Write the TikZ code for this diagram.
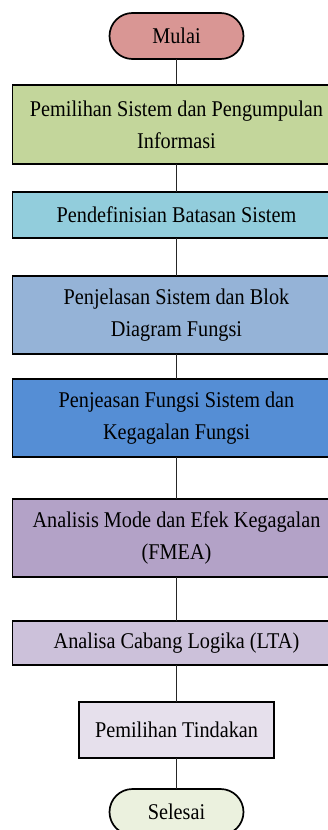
\documentclass[tikz,border=0pt]{standalone}
\usepackage{fontspec}
\setmainfont[FakeStretch=0.9]{Liberation Serif}
\definecolor{cstart}{RGB}{217,150,148}
\definecolor{cone}{RGB}{195,214,155}
\definecolor{ctwo}{RGB}{146,205,220}
\definecolor{cthree}{RGB}{149,179,215}
\definecolor{cfour}{RGB}{85,142,213}
\definecolor{cfive}{RGB}{179,162,199}
\definecolor{csix}{RGB}{204,193,218}
\definecolor{cseven}{RGB}{230,224,236}
\definecolor{cend}{RGB}{235,241,222}
\begin{document}
\begin{tikzpicture}[x=1pt,y=1pt,
  every node/.style={font=\fontsize{22.5}{32}\selectfont, align=center, inner sep=0pt, outer sep=0pt},
  term/.style={draw=black, line width=1.7pt, rounded corners=23pt, minimum width=134pt, minimum height=46pt},
  stepbox/.style={draw=black, line width=1.7pt, minimum width=328pt},
  link/.style={draw=black!85, line width=1.7pt}]
\path[use as bounding box] (0,0) rectangle (328,-830);
\clip (0,0) rectangle (328,-830);
\fill[white] (0,0) rectangle (328,-830);
\node[term, fill=cstart] (mulai) at (176.5,-36) {Mulai};
\node[stepbox, fill=cone, minimum height=79pt] (b1) at (176.5,-124.5) {Pemilihan Sistem dan Pengumpulan\\Informasi};
\node[stepbox, fill=ctwo, minimum height=46pt] (b2) at (176.5,-215) {Pendefinisian Batasan Sistem};
\node[stepbox, fill=cthree, minimum height=78pt] (b3) at (176.5,-315) {Penjelasan Sistem dan Blok\\Diagram Fungsi};
\node[stepbox, fill=cfour, minimum height=78pt] (b4) at (176.5,-418) {Penjeasan Fungsi Sistem dan\\Kegagalan Fungsi};
\node[stepbox, fill=cfive, minimum height=78pt] (b5) at (176.5,-538) {Analisis Mode dan Efek Kegagalan\\(FMEA)};
\node[stepbox, fill=csix, minimum height=44pt] (b6) at (176.5,-643) {Analisa Cabang Logika (LTA)};
\node[draw=black, line width=1.7pt, fill=cseven, minimum width=195pt, minimum height=56pt] (b7) at (176.5,-730) {Pemilihan Tindakan};
\node[term, fill=cend] (selesai) at (176.5,-812) {Selesai};
\draw[link] (mulai) -- (b1);
\draw[link] (b1) -- (b2);
\draw[link] (b2) -- (b3);
\draw[link] (b3) -- (b4);
\draw[link] (b4) -- (b5);
\draw[link] (b5) -- (b6);
\draw[link] (b6) -- (b7);
\draw[link] (b7) -- (selesai);
\end{tikzpicture}
\end{document}
